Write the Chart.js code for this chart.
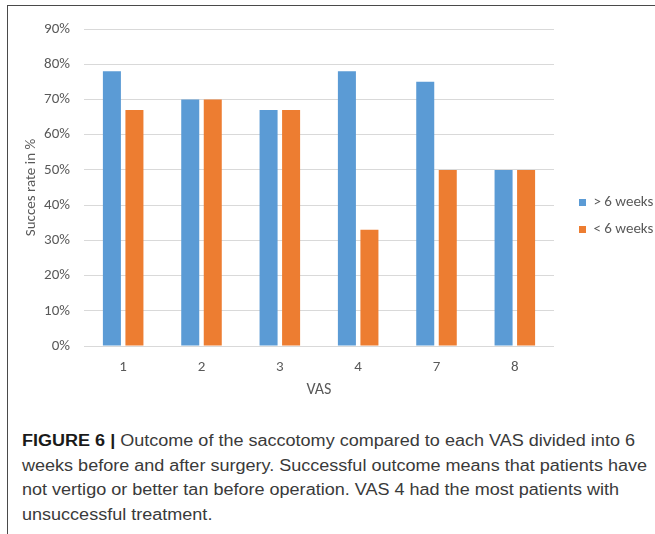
<!DOCTYPE html>
<html>
<head>
<meta charset="utf-8">
<script src="https://cdn.jsdelivr.net/npm/chart.js@4/dist/chart.umd.min.js"></script>
<style>
  html, body { margin: 0; padding: 0; background: #fff; }
  body { width: 655px; height: 534px; position: relative; overflow: hidden; }
  #frame {
    position: absolute; left: 7px; top: 5px; width: 660px; height: 540px;
    border-left: 1.5px solid #4a4a4a; border-top: 1.5px solid #4a4a4a;
  }
  #wrap { position: absolute; left: 0; top: 0; width: 655px; height: 410px; }
  #caption {
    position: absolute; left: 22px; top: 429px;
    font-family: "Liberation Sans Narrow", "Liberation Sans", Arial, sans-serif;
    font-size: 16px; line-height: 24.7px; color: #3a3a3a;
    white-space: nowrap; transform-origin: 0 0;
  }
  #caption b { color: #1a1a1a; }
</style>
</head>
<body>
<div id="frame"></div>
<div id="wrap"><canvas id="chart" width="655" height="410"></canvas></div>
<div id="caption">
  <span class="ln"><b>FIGURE 6 |</b> Outcome of the saccotomy compared to each VAS divided into 6</span><br>
  <span class="ln">weeks before and after surgery. Successful outcome means that patients have</span><br>
  <span class="ln">not vertigo or better tan before operation. VAS 4 had the most patients with</span><br>
  <span class="ln">unsuccessful treatment.</span>
</div>
<script>
// VAS groups and success rates (%) per group
const vasLabels = ['1', '2', '3', '4', '7', '8'];
const overSixWeeks = [78, 70, 67, 78, 75, 50];
const underSixWeeks = [67, 70, 67, 33, 50, 50];
const seriesNames = ['> 6 weeks', '< 6 weeks'];
const yTickMax = 90;
const yTickStep = 10;

const FONT = 'Carlito, Lato, "Open Sans", sans-serif';
const GREY = '#595959';

new Chart(document.getElementById('chart'), {
  type: 'bar',
  data: {
    labels: vasLabels,
    datasets: [
      { label: seriesNames[0], data: overSixWeeks, backgroundColor: '#5B9BD5', yAxisID: 'y' },
      { label: seriesNames[1], data: underSixWeeks, backgroundColor: '#ED7D31', yAxisID: 'y' }
    ]
  },
  options: {
    responsive: false,
    animation: false,
    events: [],
    datasets: { bar: { categoryPercentage: 0.575, barPercentage: 0.8 } },
    layout: { padding: { left: 10, top: 29, right: 0, bottom: 7 } },
    plugins: {
      tooltip: { enabled: false },
      legend: {
        position: 'right',
        align: 'center',
        maxWidth: 88,
        labels: {
          boxWidth: 7, boxHeight: 7, padding: 12,
          color: GREY, font: { family: FONT, size: 15 }
        }
      }
    },
    scales: {
      x: {
        grid: { display: false },
        border: { display: false },
        ticks: { color: GREY, padding: 4, font: { family: FONT, size: 15 } },
        title: { display: true, text: 'VAS', color: GREY, padding: { top: 3, bottom: 3 }, font: { family: FONT, size: 16 } },
        afterFit: (s) => { s.height = 57; }
      },
      y: {
        min: 0, max: yTickMax,
        grid: { color: '#D9D9D9', lineWidth: 1, drawTicks: false },
        border: { display: false },
        ticks: {
          stepSize: yTickStep, padding: 14, color: GREY,
          font: { family: FONT, size: 15 },
          callback: (v) => v + '%'
        },
        title: { display: true, text: 'Succes rate in %', color: GREY, padding: { top: 12, bottom: 12 }, font: { family: FONT, size: 15 } },
        afterFit: (s) => { s.width = 74; }
      },
      // narrow blank strip between the plot and the legend
      gap: {
        position: 'right',
        grid: { display: false },
        border: { display: false },
        ticks: { display: false },
        afterFit: (s) => { s.width = 13; }
      }
    }
  }
});

// fit caption lines to the column width
(function () {
  const cap = document.getElementById('caption');
  let widest = 0;
  cap.querySelectorAll('.ln').forEach(el => { widest = Math.max(widest, el.getBoundingClientRect().width); });
  if (widest > 0) cap.style.transform = 'scaleX(' + (625 / widest) + ')';
})();
</script>
</body>
</html>
